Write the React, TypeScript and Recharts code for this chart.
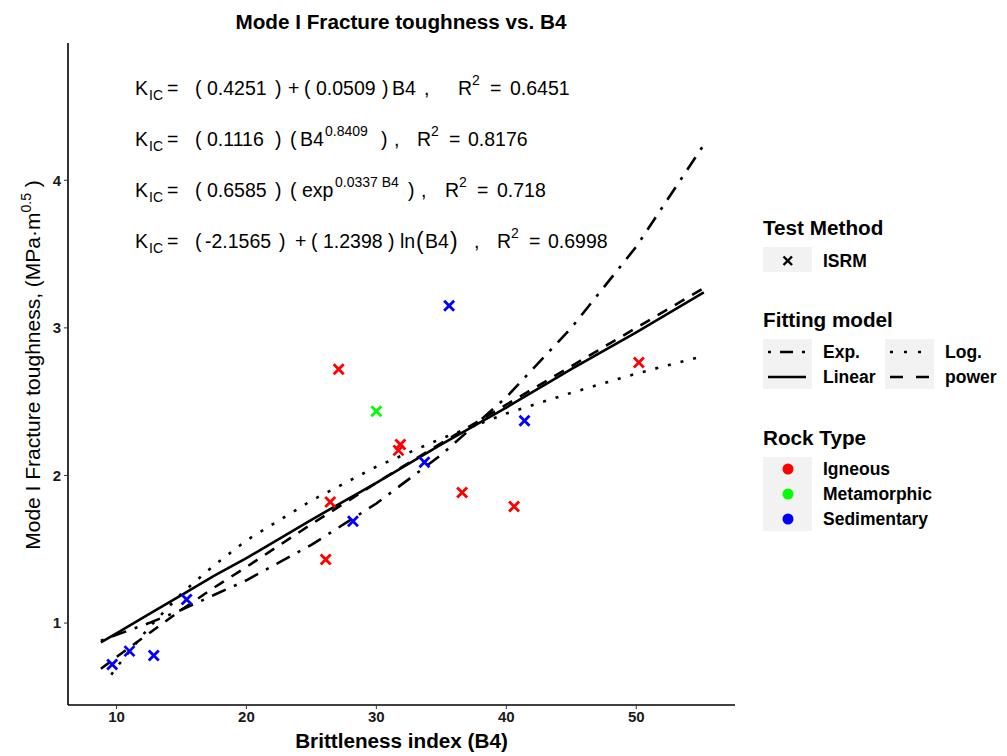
import React from "react";
import {
  ComposedChart,
  Line,
  Scatter,
  XAxis,
  YAxis,
} from "recharts";

// measured points (B4, K_IC) by rock type
const igneous = [
  { x: 27.1, y: 2.72 },
  { x: 31.85, y: 2.21 },
  { x: 31.7, y: 2.17 },
  { x: 26.45, y: 1.82 },
  { x: 26.1, y: 1.43 },
  { x: 36.6, y: 1.885 },
  { x: 40.6, y: 1.79 },
  { x: 50.2, y: 2.765 },
];
const metamorphic = [{ x: 30.0, y: 2.435 }];
const sedimentary = [
  { x: 9.67, y: 0.72 },
  { x: 11.0, y: 0.81 },
  { x: 12.87, y: 0.78 },
  { x: 15.4, y: 1.16 },
  { x: 28.2, y: 1.69 },
  { x: 33.7, y: 2.09 },
  { x: 35.6, y: 3.15 },
  { x: 41.4, y: 2.37 },
];

// fitted curves
const fitX = [8.8, 10, 12.5, 15, 17.5, 20, 25, 30, 35, 40, 45, 50, 55.2];
const linearY = [0.87, 0.93, 1.06, 1.19, 1.32, 1.44, 1.7, 1.95, 2.21, 2.46, 2.72, 2.97, 3.24];
const powerY = [0.69, 0.77, 0.93, 1.09, 1.24, 1.38, 1.67, 1.95, 2.22, 2.48, 2.74, 3.0, 3.27];
const expY = [0.88, 0.92, 1.0, 1.09, 1.19, 1.29, 1.53, 1.81, 2.14, 2.53, 3.0, 3.55, 4.24];
const logX = [9.6, 10, 12.5, 15, 17.5, 20, 25, 30, 35, 40, 45, 50, 55.2];
const logY = [0.65, 0.7, 0.97, 1.2, 1.39, 1.56, 1.83, 2.06, 2.25, 2.42, 2.56, 2.69, 2.81];

const xTicks = [10, 20, 30, 40, 50];
const yTicks = [1, 2, 3, 4];

// equation pieces: [text, x, kind]  kind: n = normal, b = sub, p = sup, L = large paren
type Seg = [string, number, string];
const eqLinear: Seg[] = [
  ["(", 195, "n"], ["0.4251", 207, "n"], [")", 275, "n"], ["+", 288, "n"],
  ["(", 304, "n"], ["0.0509", 316, "n"], [")", 382, "n"], ["B4", 392, "n"],
  [",", 424, "n"], ["R", 458, "n"], ["2", 472, "p"], ["=", 490, "n"], ["0.6451", 510, "n"],
];
const eqPower: Seg[] = [
  ["(", 195, "n"], ["0.1116", 207, "n"], [")", 275, "n"], ["(", 290, "n"],
  ["B4", 300, "n"], ["0.8409", 325, "p"], [")", 381, "n"], [",", 394, "n"],
  ["R", 417, "n"], ["2", 431, "p"], ["=", 449, "n"], ["0.8176", 468, "n"],
];
const eqExp: Seg[] = [
  ["(", 195, "n"], ["0.6585", 207, "n"], [")", 275, "n"], ["(", 290, "n"],
  ["exp", 302, "n"], ["0.0337 B4", 335, "p"], [")", 408, "n"], [",", 421, "n"],
  ["R", 445, "n"], ["2", 459, "p"], ["=", 477, "n"], ["0.718", 497, "n"],
];
const eqLog: Seg[] = [
  ["(", 195, "n"], ["-2.1565", 205, "n"], [")", 279, "n"], ["+", 295, "n"],
  ["(", 311, "n"], ["1.2398", 323, "n"], [")", 388, "n"], ["ln", 400, "n"],
  ["(", 416, "L"], ["B4", 425, "n"], [")", 450, "L"], [",", 474, "n"],
  ["R", 497, "n"], ["2", 511, "p"], ["=", 529, "n"], ["0.6998", 548, "n"],
];

const toRows = (xs: number[], ys: number[]) => xs.map((x, i) => ({ x, y: ys[i] }));

const FONT = "'Liberation Sans', Arial, sans-serif";

function Cross(props: any) {
  const { cx, cy, fill } = props;
  const h = 5;
  return (
    <g stroke={fill} strokeWidth={2.8} strokeLinecap="butt">
      <line x1={cx - h} y1={cy - h} x2={cx + h} y2={cy + h} />
      <line x1={cx - h} y1={cy + h} x2={cx + h} y2={cy - h} />
    </g>
  );
}

function Eq({ y, segs }: { y: number; segs: Seg[] }) {
  const all: Seg[] = [["K", 135, "n"], ["IC", 149, "b"], ["=", 167, "n"], ...segs];
  return (
    <text fontSize={19.5} fontFamily={FONT} fill="#000">
      {all.map(([t, x, k], i) => (
        <tspan
          key={i}
          x={x}
          y={k === "p" ? y - 10 : k === "b" ? y + 5 : k === "L" ? y + 1 : y}
          fontSize={k === "p" || k === "b" ? 14 : k === "L" ? 23 : 19.5}
        >
          {t}
        </tspan>
      ))}
    </text>
  );
}

function Overlay() {
  const legendLabel = { fontSize: 17.5, fontWeight: 700, fontFamily: FONT, fill: "#000" } as const;
  const legendTitle = { fontSize: 20.7, fontWeight: 700, fontFamily: FONT, fill: "#000" } as const;
  return (
    <svg
      width={1007}
      height={756}
      style={{ position: "absolute", left: 0, top: 0, pointerEvents: "none" }}
    >
      <text x={401} y={29} textAnchor="middle" fontSize={20.7} fontWeight={700} fontFamily={FONT}>
        Mode I Fracture toughness vs. B4
      </text>
      <text x={401.5} y={748} textAnchor="middle" fontSize={20.7} fontWeight={700} fontFamily={FONT}>
        Brittleness index (B4)
      </text>
      <text
        transform="translate(40,365) rotate(-90)"
        textAnchor="middle"
        fontSize={21}
        fontFamily={FONT}
      >
        Mode I Fracture toughness, (MPa·m
        <tspan fontSize={14} dy={-9}>0.5</tspan>
        <tspan dy={9}>{" )"}</tspan>
      </text>

      <Eq y={95} segs={eqLinear} />
      <Eq y={146} segs={eqPower} />
      <Eq y={197} segs={eqExp} />
      <Eq y={248} segs={eqLog} />

      {/* Test Method */}
      <text x={763} y={235} {...legendTitle}>Test Method</text>
      <rect x={763} y={247} width={49} height={25} fill="#F2F2F2" />
      <g stroke="#000" strokeWidth={2.4}>
        <line x1={783.5} y1={256.5} x2={792} y2={265} />
        <line x1={783.5} y1={265} x2={792} y2={256.5} />
      </g>
      <text x={823} y={267} {...legendLabel}>ISRM</text>

      {/* Fitting model */}
      <text x={763} y={327} {...legendTitle}>Fitting model</text>
      <rect x={763} y={339} width={49} height={50} fill="#F2F2F2" />
      <rect x={885} y={339} width={49} height={50} fill="#F2F2F2" />
      <line x1={768} y1={352} x2={806} y2={352} stroke="#000" strokeWidth={2.6} strokeDasharray="3 9 13 9" />
      <line x1={768} y1={377} x2={806} y2={377} stroke="#000" strokeWidth={2.6} />
      <line x1={890} y1={352} x2={923} y2={352} stroke="#000" strokeWidth={2.6} strokeDasharray="3 11" />
      <line x1={890} y1={377} x2={931} y2={377} stroke="#000" strokeWidth={2.6} strokeDasharray="13 13" />
      <text x={823} y={358} {...legendLabel}>Exp.</text>
      <text x={823} y={383} {...legendLabel}>Linear</text>
      <text x={945} y={358} {...legendLabel}>Log.</text>
      <text x={945} y={383} {...legendLabel}>power</text>

      {/* Rock Type */}
      <text x={763} y={445} {...legendTitle}>Rock Type</text>
      <rect x={763} y={457} width={49} height={74} fill="#F2F2F2" />
      <circle cx={788} cy={469} r={5.5} fill="#FF0000" />
      <circle cx={788} cy={494} r={5.5} fill="#00FF00" />
      <circle cx={788} cy={519} r={5.5} fill="#0000FF" />
      <text x={823} y={475} {...legendLabel}>Igneous</text>
      <text x={823} y={500} {...legendLabel}>Metamorphic</text>
      <text x={823} y={525} {...legendLabel}>Sedimentary</text>
    </svg>
  );
}

export default function App() {
  const tick = { fill: "#1a1a1a", fontSize: 15, fontWeight: 700, fontFamily: FONT };
  return (
    <div style={{ position: "absolute", left: 0, top: 0, width: 1007, height: 756, background: "#fff" }}>
      <ComposedChart
        width={1007}
        height={756}
        margin={{ top: 43, right: 272, bottom: 11, left: 8 }}
      >
        <XAxis
          dataKey="x"
          type="number"
          domain={[6.27, 57.6]}
          ticks={xTicks}
          allowDataOverflow
          height={40}
          tick={tick}
          tickSize={4}
          tickMargin={2}
          axisLine={{ stroke: "#000", strokeWidth: 1.6 }}
          tickLine={{ stroke: "#333" }}
        />
        <YAxis
          dataKey="y"
          type="number"
          domain={[0.445, 4.93]}
          ticks={yTicks}
          allowDataOverflow
          width={60}
          tick={tick}
          tickSize={4}
          tickMargin={3}
          axisLine={{ stroke: "#000", strokeWidth: 1.6 }}
          tickLine={{ stroke: "#333" }}
        />
        <Line data={toRows(fitX, linearY)} dataKey="y" type="linear" dot={false} stroke="#000" strokeWidth={2.6} isAnimationActive={false} />
        <Line data={toRows(fitX, powerY)} dataKey="y" type="linear" dot={false} stroke="#000" strokeWidth={2.6} strokeDasharray="11 9" isAnimationActive={false} />
        <Line data={toRows(fitX, expY)} dataKey="y" type="linear" dot={false} stroke="#000" strokeWidth={2.6} strokeDasharray="3 9 15 9" isAnimationActive={false} />
        <Line data={toRows(logX, logY)} dataKey="y" type="linear" dot={false} stroke="#000" strokeWidth={2.6} strokeDasharray="3 10" isAnimationActive={false} />
        <Scatter data={igneous} fill="#FF0000" shape={<Cross />} isAnimationActive={false} />
        <Scatter data={metamorphic} fill="#00FF00" shape={<Cross />} isAnimationActive={false} />
        <Scatter data={sedimentary} fill="#0000FF" shape={<Cross />} isAnimationActive={false} />
      </ComposedChart>
      <Overlay />
    </div>
  );
}
